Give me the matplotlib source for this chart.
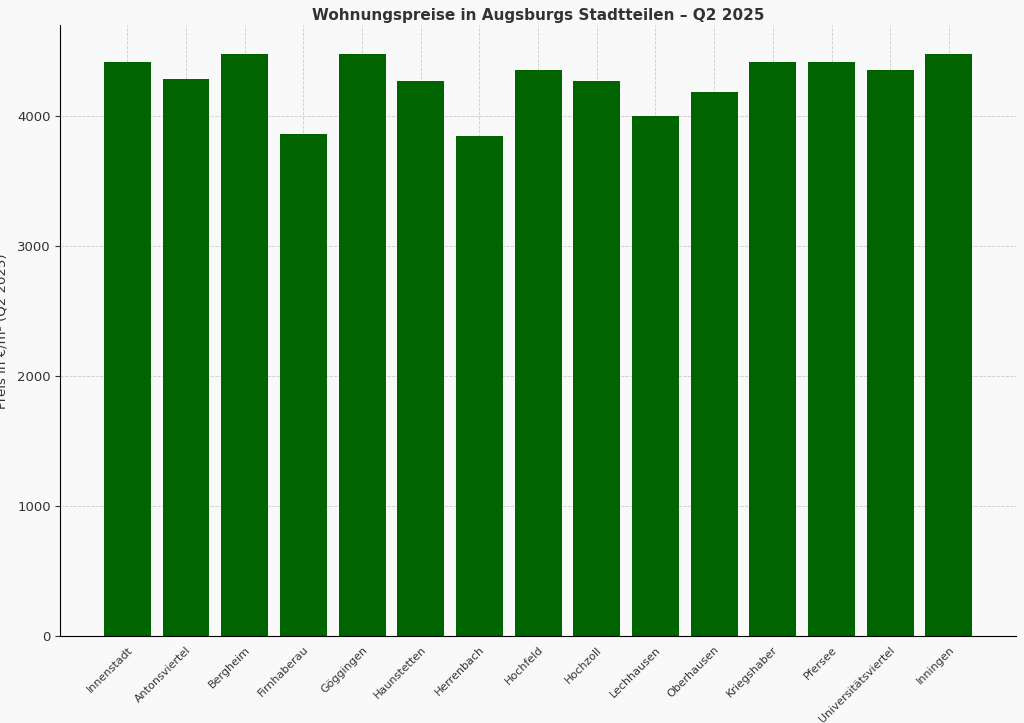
import matplotlib.pyplot as plt

districts = [
    "Innenstadt", "Antonsviertel", "Bergheim", "Firnhaberau", "Göggingen",
    "Haunstetten", "Herrenbach", "Hochfeld", "Hochzoll", "Lechhausen",
    "Oberhausen", "Kriegshaber", "Pfersee", "Universitätsviertel", "Inningen",
]
prices = [4420, 4290, 4480, 3860, 4480, 4270, 3850, 4360, 4270, 4000,
          4190, 4420, 4420, 4360, 4480]

fig = plt.figure(figsize=(10.24, 7.23), dpi=100)
fig.patch.set_facecolor("#f9f9f9")
ax = fig.add_axes([0.059, 0.12, 0.933, 0.845])
ax.set_facecolor("#f9f9f9")

ax.bar(districts, prices, color="#006400", width=0.8, zorder=2)
ax.grid(True, linestyle="--", linewidth=0.6, color="#cccccc", zorder=0)
ax.set_axisbelow(True)
for side in ("top", "right"):
    ax.spines[side].set_visible(False)
ax.set_ylim(0, 4700)
ax.set_xlim(-1.14, 15.14)
ax.set_yticks([0, 1000, 2000, 3000, 4000])
ax.tick_params(axis="y", labelsize=9.5, colors="#333333")
ax.tick_params(axis="x", labelsize=8, colors="#333333", length=0, pad=6)
plt.setp(ax.get_xticklabels(), rotation=45, ha="right", rotation_mode="anchor")
ax.set_ylabel("Preis in €/m² (Q2 2025)", fontsize=9.5, color="#333333", labelpad=6)
ax.set_title("Wohnungspreise in Augsburgs Stadtteilen – Q2 2025",
             fontsize=11, fontweight="bold", color="#333333", pad=4)

fig.savefig("out.png", dpi=100, facecolor=fig.get_facecolor())
plt.close(fig)
